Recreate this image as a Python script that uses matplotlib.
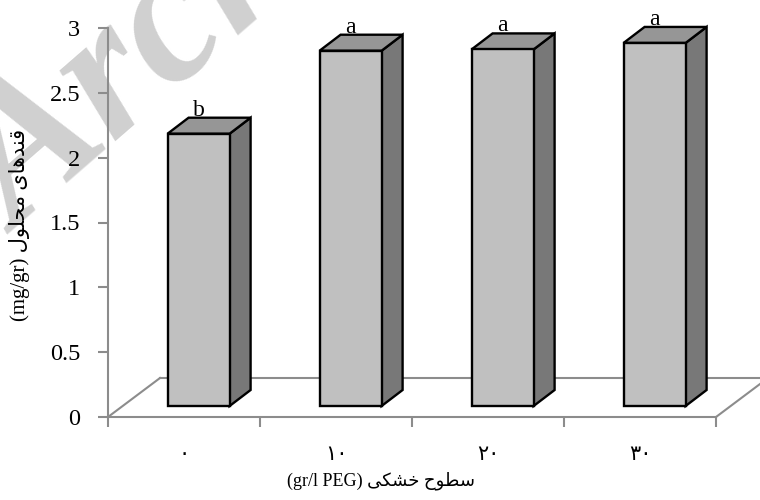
import matplotlib
matplotlib.use('Agg')
import matplotlib.pyplot as plt
from matplotlib.patches import Polygon

# drought levels (PEG, gr/l) and soluble sugars (mg/gr)
categories = ['\u06f0', '\u06f1\u06f0', '\u06f2\u06f0', '\u06f3\u06f0']
sugar = [2.10, 2.74, 2.75, 2.80]
letters = ['b', 'a', 'a', 'a']

# arabic text, already shaped and in visual order (matplotlib has no bidi)
ylabel_txt = '(mg/gr) \ufedd\ufeee\ufee0\ufea4\ufee3 \ufeef\ufe8e\ufeeb\ufeaa\ufee8\ufed7'
xlabel_txt = '(gr/l PEG) \ufef0\ufedc\ufeb8\ufea7 \ufea1\ufeee\ufec4\ufeb3'

fonts = ['Liberation Serif', 'DejaVu Sans']
plt.rcParams['font.family'] = fonts

W, H = 760, 500
px_y = 3.0 / 389          # value units per pixel
px_x = 1.0 / 152          # category units per pixel
left_px, base_px = 108, 417

axis_col = '#8c8c8c'
front_col = '#c0c0c0'
top_col = '#969696'
side_col = '#787878'

fig = plt.figure(figsize=(W / 100, H / 100), dpi=100)
fig.text(-0.095, 0.55, 'Archive of SID', rotation=41, fontsize=140,
         family='Liberation Serif', style='italic', weight='bold',
         color='#d0d0d0', ha='left', va='baseline', zorder=-1)

ax = fig.add_axes([left_px / W, (H - base_px) / H, (W - left_px) / W, base_px / H])
ax.patch.set_visible(False)
ax.set_xlim(0, (W - left_px) * px_x)
ax.set_ylim(0, base_px * px_y)

# floor depth and bar placement along depth
fdx, fdy = 52 * px_x, 39 * px_y
bx0, by0 = 14.6 * px_x, 11 * px_y
bdx, bdy = 21 * px_x, 16 * px_y
bw = 62 * px_x

n = len(categories)
floor_kw = dict(color=axis_col, lw=1.5, clip_on=False, zorder=1)
ax.plot([0, fdx], [0, fdy], **floor_kw)
ax.plot([n, n + fdx], [0, fdy], **floor_kw)
ax.plot([fdx, ax.get_xlim()[1] + 0.2], [fdy, fdy], **floor_kw)

for i, v in enumerate(sugar):
    x0 = i + 0.5 - bw / 2 + bx0
    x1 = x0 + bw
    y0 = by0
    y1 = v + by0
    front = [(x0, y0), (x1, y0), (x1, y1), (x0, y1)]
    top = [(x0, y1), (x1, y1), (x1 + bdx, y1 + bdy), (x0 + bdx, y1 + bdy)]
    side = [(x1, y0), (x1 + bdx, y0 + bdy), (x1 + bdx, y1 + bdy), (x1, y1)]
    for pts, col in [(side, side_col), (top, top_col), (front, front_col)]:
        ax.add_patch(Polygon(pts, closed=True, facecolor=col, edgecolor='black',
                             lw=1.7, joinstyle='miter', zorder=3))
    ax.text((x0 + x1) / 2, y1 + bdy + 2 * px_y, letters[i], ha='center', va='baseline',
            fontsize=17, zorder=4)

for s in ['top', 'right']:
    ax.spines[s].set_visible(False)
ax.spines['left'].set_bounds(0, 3)
ax.spines['bottom'].set_bounds(0, n)
for s in ['left', 'bottom']:
    ax.spines[s].set_color(axis_col)
    ax.spines[s].set_linewidth(1.5)

ax.set_yticks([0, 0.5, 1, 1.5, 2, 2.5, 3])
ax.set_yticklabels(['0', '0.5', '1', '1.5', '2', '2.5', '3'])
ax.tick_params(axis='y', length=7, width=1.5, color=axis_col, pad=13, labelsize=17.5)

ax.set_xticks(range(n + 1))
ax.set_xticklabels([''] * (n + 1))
ax.set_xticks([i + 0.5 for i in range(n)], minor=True)
ax.set_xticklabels(categories, minor=True, fontsize=15)
ax.tick_params(axis='x', which='major', length=7, width=1.5, color=axis_col)
ax.tick_params(axis='x', which='minor', length=0, pad=21)

fig.text(381 / W, 1 - 481 / H, xlabel_txt, ha='center', va='center', fontsize=13)
fig.text(20 / W, 1 - 225 / H, ylabel_txt, ha='center', va='center', rotation=90, fontsize=15)

plt.savefig('out.png', dpi=100)
